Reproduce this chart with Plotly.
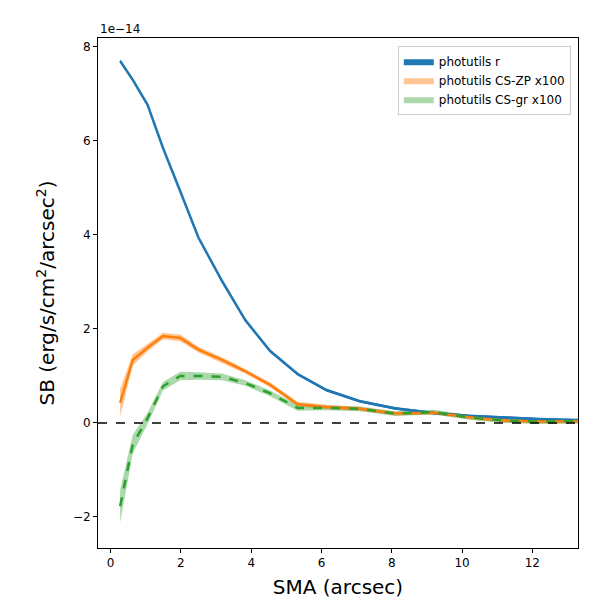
import numpy as np
import plotly.graph_objects as go

# values in units of 1e-14 erg/s/cm^2/arcsec^2
sma = [0.27, 0.63, 1.05, 1.49, 1.98, 2.5, 3.17, 3.83, 4.54, 5.32, 6.14, 7.1, 8.1, 9.2, 10.2, 11.2, 12.2, 13.2, 14.2]
sb_r = [7.7, 7.3, 6.77, 5.85, 4.93, 3.94, 3.02, 2.19, 1.53, 1.04, 0.70, 0.46, 0.31, 0.21, 0.15, 0.11, 0.08, 0.06, 0.05]
sb_zp = [0.43, 1.34, 1.6, 1.85, 1.81, 1.56, 1.34, 1.1, 0.81, 0.40, 0.34, 0.30, 0.20, 0.22, 0.12, 0.05, 0.03, 0.03, 0.04]
err_zp = [0.3, 0.12, 0.08, 0.07, 0.07, 0.06, 0.06, 0.05, 0.05, 0.05, 0.05, 0.04, 0.04, 0.04, 0.04, 0.04, 0.04, 0.04, 0.04]
sb_gr = [-1.77, -0.45, 0.10, 0.78, 1.0, 1.0, 0.98, 0.85, 0.63, 0.32, 0.32, 0.30, 0.20, 0.23, 0.12, 0.05, 0.03, 0.04, 0.05]
err_gr = [0.35, 0.2, 0.12, 0.09, 0.09, 0.08, 0.07, 0.06, 0.06, 0.06, 0.05, 0.05, 0.05, 0.05, 0.05, 0.05, 0.05, 0.05, 0.05]
err_r = [0.03] * len(sma)

x = np.array(sma)


def band(y, e, fillcolor, name):
    y = np.array(y)
    e = np.array(e)
    return go.Scatter(
        x=np.concatenate([x, x[::-1]]),
        y=np.concatenate([y + e, (y - e)[::-1]]),
        fill='toself', fillcolor=fillcolor,
        line=dict(width=0), mode='lines',
        name=name, hoverinfo='skip',
    )


fig = go.Figure()
fig.add_hline(y=0, line=dict(color='black', width=1.6, dash='dash'))

fig.add_trace(band(sb_r, err_r, 'rgba(31,119,180,1)', 'photutils r'))
fig.add_trace(band(sb_zp, err_zp, 'rgba(255,127,14,0.45)', 'photutils CS-ZP x100'))
fig.add_trace(band(sb_gr, err_gr, 'rgba(44,160,44,0.4)', 'photutils CS-gr x100'))

fig.add_trace(go.Scatter(x=sma, y=sb_r, mode='lines', showlegend=False,
                         line=dict(color='#1f77b4', width=2.5)))
fig.add_trace(go.Scatter(x=sma, y=sb_zp, mode='lines', showlegend=False,
                         line=dict(color='#ff7f0e', width=2.5)))
fig.add_trace(go.Scatter(x=sma, y=sb_gr, mode='lines', showlegend=False,
                         line=dict(color='#2ca02c', width=2.5, dash='dash')))

axis = dict(showline=True, linecolor='black', linewidth=1, mirror=True,
            ticks='outside', ticklen=4, tickcolor='black', showgrid=False,
            zeroline=False, automargin=False,
            tickfont=dict(size=12, color='black'))
fig.update_xaxes(range=[-0.36, 13.3], dtick=2, **axis,
                 title=dict(text='SMA (arcsec)', font=dict(size=20, color='black'),
                            standoff=10))
fig.update_yaxes(range=[-2.66, 8.19], dtick=2, **axis,
                 title=dict(text='SB (erg/s/cm<sup>2</sup>/arcsec<sup>2</sup>)',
                            font=dict(size=20, color='black'), standoff=12))

fig.add_annotation(text='1e\u221214', xref='paper', yref='paper', x=0, y=1.0,
                   xanchor='left', yanchor='bottom', showarrow=False,
                   font=dict(size=12, color='black'))

fig.update_layout(
    width=600, height=600,
    margin=dict(l=90, r=30, t=30, b=60, autoexpand=False),
    plot_bgcolor='white', paper_bgcolor='white',
    font=dict(family='DejaVu Sans'),
    legend=dict(x=0.985, y=0.985, xanchor='right', yanchor='top',
                bordercolor='#cccccc', borderwidth=1, bgcolor='white',
                font=dict(size=12, color='black')),
)

fig.write_html("out.html")
